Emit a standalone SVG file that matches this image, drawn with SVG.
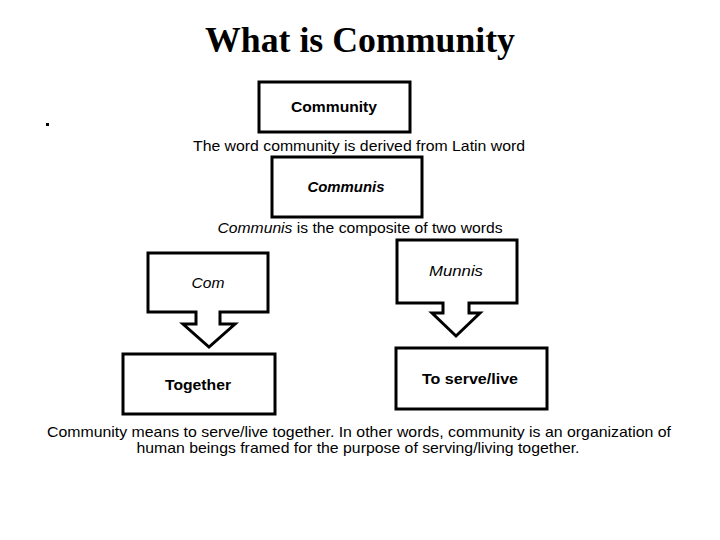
<svg xmlns="http://www.w3.org/2000/svg" width="720" height="540" viewBox="0 0 720 540">
<style>
.box{fill:#fff;stroke:#000;stroke-width:3}
.t{font-family:"Liberation Sans",Arial,sans-serif;font-size:15px;fill:#000}
.b{font-weight:bold}
.i{font-style:italic}
.title{font-family:"Liberation Serif","Times New Roman",serif;font-size:36px;font-weight:bold;fill:#000}
</style>
<rect width="720" height="540" fill="#fff"/>
<text class="title" x="360" y="52" text-anchor="middle" textLength="310" lengthAdjust="spacingAndGlyphs">What is Community</text>
<rect x="46" y="123" width="3" height="3" fill="#000"/>
<g id="community">
<rect class="box" x="259" y="82" width="151" height="50"/>
<text class="t b" x="334" y="112" text-anchor="middle" textLength="86" lengthAdjust="spacingAndGlyphs">Community</text>
</g>
<text class="t" x="359" y="151" text-anchor="middle" textLength="332" lengthAdjust="spacingAndGlyphs">The word community is derived from Latin word</text>
<g id="communis">
<rect class="box" x="272" y="157" width="150" height="60"/>
<text class="t b i" x="346" y="192" text-anchor="middle" textLength="77" lengthAdjust="spacingAndGlyphs">Communis</text>
</g>
<text class="t" x="360" y="233" text-anchor="middle" textLength="285" lengthAdjust="spacingAndGlyphs"><tspan class="i">Communis</tspan> is the composite of two words</text>
<g id="com">
<path class="box" d="M148,253 H268 V312 H220 V324 H235 L209,347 L183,324 H196 V312 H148 Z"/>
<text class="t i" x="208" y="288" text-anchor="middle" textLength="33" lengthAdjust="spacingAndGlyphs">Com</text>
</g>
<g id="munnis">
<path class="box" d="M397,240 H517 V303 H469 V313 H480 L456,336 L432,313 H443 V303 H397 Z"/>
<text class="t i" x="456" y="276" text-anchor="middle" textLength="54" lengthAdjust="spacingAndGlyphs">Munnis</text>
</g>
<g id="together">
<rect class="box" x="123" y="354" width="152" height="60"/>
<text class="t b" x="198" y="390" text-anchor="middle" textLength="66" lengthAdjust="spacingAndGlyphs">Together</text>
</g>
<g id="serve">
<rect class="box" x="396" y="348" width="151" height="61"/>
<text class="t b" x="470" y="384" text-anchor="middle" textLength="96" lengthAdjust="spacingAndGlyphs">To serve/live</text>
</g>
<g id="connectors"></g>
<text class="t" x="359" y="437" text-anchor="middle" textLength="624" lengthAdjust="spacingAndGlyphs">Community means to serve/live together. In other words, community is an organization of</text>
<text class="t" x="358" y="453" text-anchor="middle" textLength="443" lengthAdjust="spacingAndGlyphs">human beings framed for the purpose of serving/living together.</text>
</svg>
